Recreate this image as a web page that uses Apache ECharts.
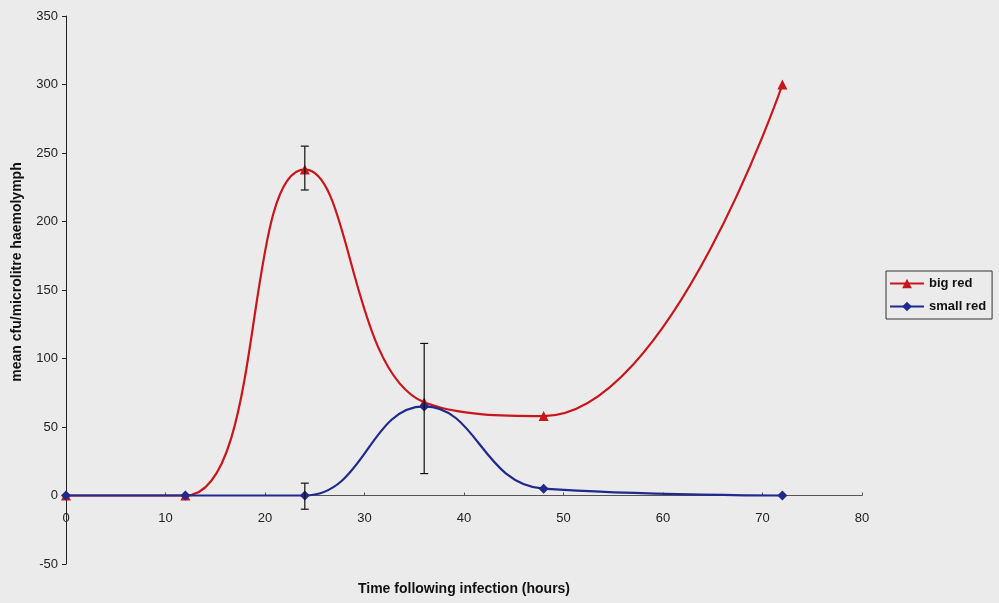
<!DOCTYPE html>
<html>
<head>
<meta charset="utf-8">
<script src="https://cdn.jsdelivr.net/npm/echarts@6/dist/echarts.min.js"></script>
<style>
  html, body { margin: 0; padding: 0; background: #ebebeb; }
  #chart { width: 999px; height: 603px; }
</style>
</head>
<body>
<div id="chart"></div>
<script>
// hours after infection
const hours = [0, 12, 24, 36, 48, 72];
const bigRed = [0, 0, 238, 68, 58, 300];
const smallRed = [0, 0, 0, 65, 5, 0];

// error bars: [hour, low, high]
const bigRedErr = [[24, 223, 255], [36, 16, 111]];
const smallRedErr = [[24, -10, 9]];

const xTicks = [0, 10, 20, 30, 40, 50, 60, 70, 80];
const yTicks = [-50, 0, 50, 100, 150, 200, 250, 300, 350];

const chart = echarts.init(document.getElementById("chart"));

const font = "'Liberation Sans', Arial, sans-serif";

// plot area height 548px for 400 units; x axis sits at y = 0
const xAxisOffset = -548 * (0 - yTicks[0]) / (yTicks[yTicks.length - 1] - yTicks[0]);

const errorBars = (data) => ({
  type: "custom",
  z: 5,
  silent: true,
  data: data,
  renderItem: (params, api) => {
    const x = api.value(0);
    const lo = api.coord([x, api.value(1)]);
    const hi = api.coord([x, api.value(2)]);
    const cap = 4;
    const style = { stroke: "#111", lineWidth: 1.2 };
    return {
      type: "group",
      children: [
        { type: "line", shape: { x1: lo[0], y1: lo[1], x2: hi[0], y2: hi[1] }, style },
        { type: "line", shape: { x1: lo[0] - cap, y1: lo[1], x2: lo[0] + cap, y2: lo[1] }, style },
        { type: "line", shape: { x1: hi[0] - cap, y1: hi[1], x2: hi[0] + cap, y2: hi[1] }, style },
      ],
    };
  },
});

const option = {
  backgroundColor: "#ebebeb",
  animation: false,
  textStyle: { fontFamily: font },
  grid: { left: 66, right: 137, top: 16, bottom: 39, containLabel: false, outerBoundsMode: "none" },
  legend: {
    orient: "vertical",
    left: 886,
    top: 271,
    padding: [6, 6, 6, 3],
    itemGap: 10,
    itemWidth: 34,
    itemHeight: 12,
    borderColor: "#333",
    borderWidth: 1,
    textStyle: { fontFamily: font, fontSize: 13, fontWeight: "bold", color: "#111" },
    data: ["big red", "small red"],
  },
  xAxis: {
    type: "value",
    min: xTicks[0],
    max: xTicks[xTicks.length - 1],
    interval: 10,
    offset: xAxisOffset,
    name: "Time following infection (hours)",
    nameLocation: "middle",
    nameGap: 87,
    nameTextStyle: { fontFamily: font, fontSize: 14, fontWeight: "bold", color: "#111" },
    axisLine: { onZero: false, lineStyle: { color: "#555", width: 1 } },
    axisTick: { show: true, length: 3, inside: true, lineStyle: { color: "#555" } },
    axisLabel: { margin: 16, fontSize: 13, color: "#222" },
    splitLine: { show: false },
  },
  yAxis: {
    type: "value",
    min: yTicks[0],
    max: yTicks[yTicks.length - 1],
    interval: 50,
    name: "mean cfu/microlitre haemolymph",
    nameLocation: "middle",
    nameGap: 42,
    nameTextStyle: { fontFamily: font, fontSize: 14, fontWeight: "bold", color: "#111", padding: [0, 0, 0, 36] },
    axisLine: { show: true, lineStyle: { color: "#222", width: 1 } },
    axisTick: { show: true, length: 4, lineStyle: { color: "#222" } },
    axisLabel: { margin: 8, fontSize: 13, color: "#222" },
    splitLine: { show: false },
  },
  series: [
    {
      name: "big red",
      type: "line",
      smooth: 0.45,
      data: hours.map((h, i) => [h, bigRed[i]]),
      symbol: "triangle",
      symbolSize: 10,
      lineStyle: { color: "#c8161b", width: 2.2 },
      itemStyle: { color: "#c8161b" },
      z: 3,
    },
    {
      name: "small red",
      type: "line",
      smooth: 0.45,
      data: hours.map((h, i) => [h, smallRed[i]]),
      symbol: "diamond",
      symbolSize: 10,
      lineStyle: { color: "#1f2a8c", width: 2.2 },
      itemStyle: { color: "#1f2a8c" },
      z: 4,
    },
    errorBars(bigRedErr),
    errorBars(smallRedErr),
  ],
};

chart.setOption(option);
</script>
</body>
</html>
